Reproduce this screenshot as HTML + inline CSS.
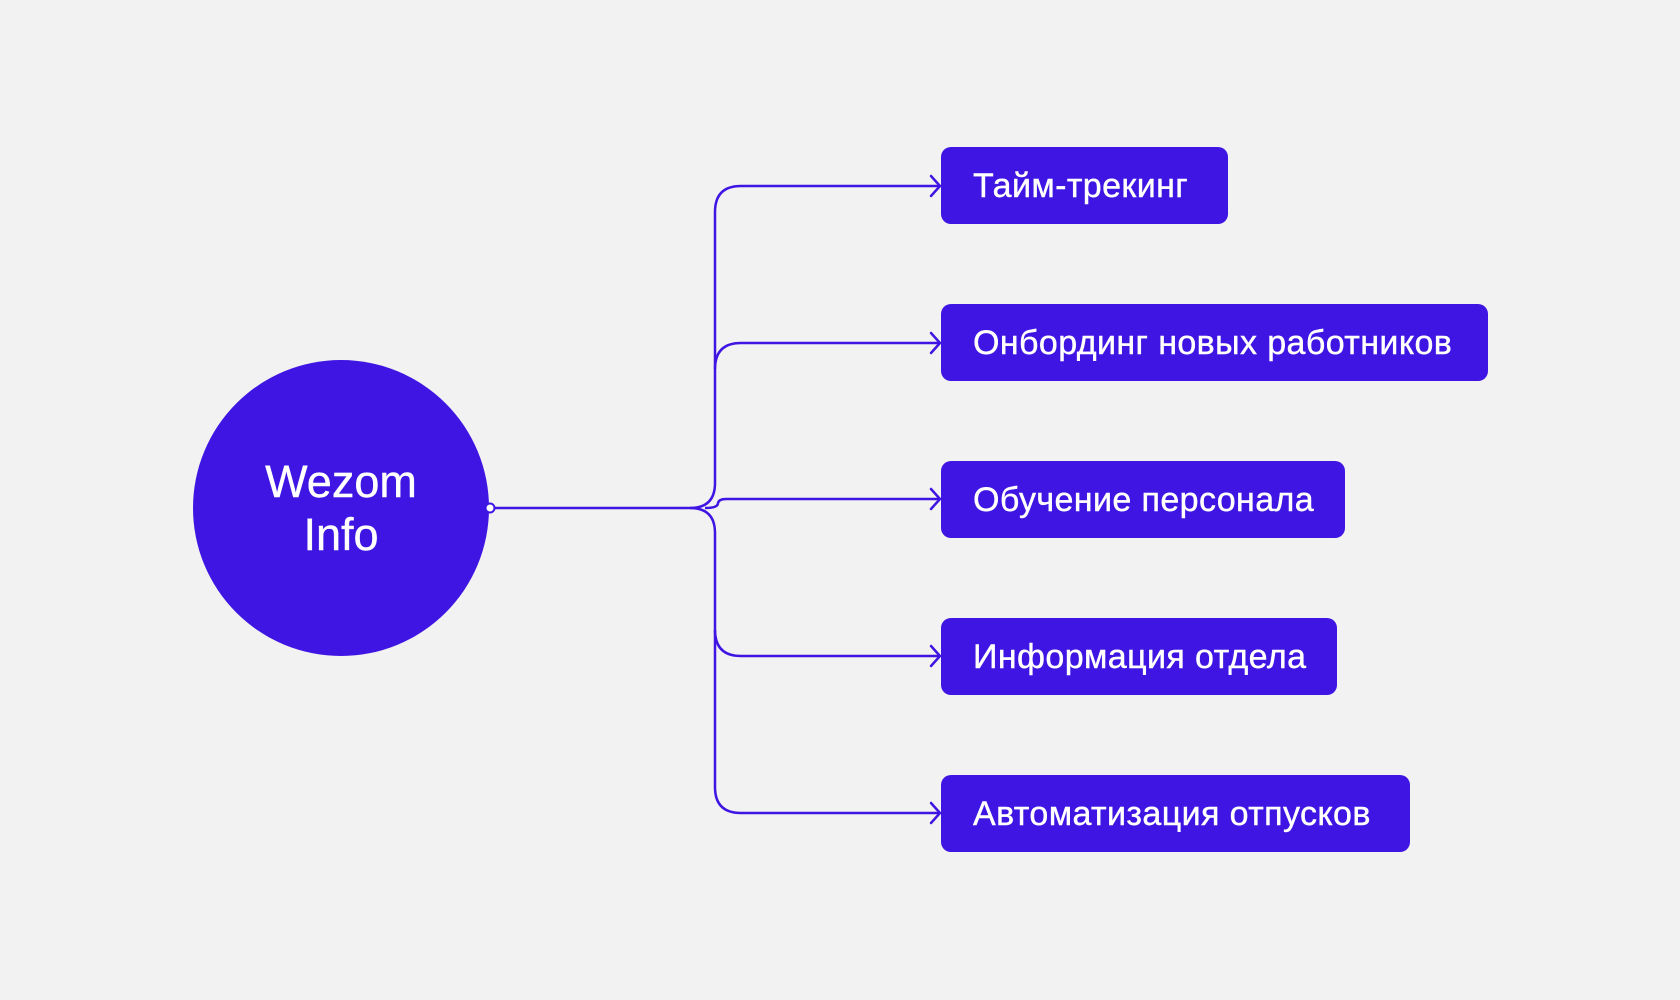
<!DOCTYPE html>
<html><head><meta charset="utf-8"><style>
html,body{margin:0;padding:0;background:#f2f2f2;}
body{width:1680px;height:1000px;position:relative;overflow:hidden;font-family:"Liberation Sans","DejaVu Sans",sans-serif;}
.box{position:absolute;left:941px;height:77px;background:#3f15e3;border-radius:10px;color:#fff;font-size:34px;letter-spacing:0.4px;line-height:79px;padding-left:32px;box-sizing:border-box;-webkit-text-stroke:0.4px #fff;}
.c{position:absolute;left:193px;top:360px;width:296px;height:296px;border-radius:50%;background:#3f15e3;color:#fff;font-size:45px;text-align:center;line-height:53px;display:flex;align-items:center;justify-content:center;-webkit-text-stroke:0.4px #fff;}
</style></head><body>
<svg width="1680" height="1000" style="position:absolute;left:0;top:0" fill="none" stroke="#3f15e3" stroke-width="2.5">
<path d="M490 508 H690 Q715 508 715 483 V212 Q715 186 741 186 H940"/>
<path d="M690 508 Q715 508 715 533 V787 Q715 813 741 813 H940"/>
<path d="M715 369 Q715 343 741 343 H940"/>
<path d="M715 630 Q715 656 741 656 H940"/>
<path d="M705 508 Q718 508 718 503 Q719 499 726 499 H940"/>
<g stroke-linecap="round">
<path d="M931 176 L940 186 L931 196"/>
<path d="M931 333 L940 343 L931 353"/>
<path d="M931 489 L940 499 L931 509"/>
<path d="M931 646 L940 656 L931 666"/>
<path d="M931 803 L940 813 L931 823"/>
</g>
</svg>
<div class="c"><div>Wezom<br>Info</div></div>
<svg width="1680" height="1000" style="position:absolute;left:0;top:0"><circle cx="490" cy="508" r="4.5" fill="#fff" stroke="#3f15e3" stroke-width="2"/></svg>
<div class="box" style="top:147px;width:287px">Тайм-трекинг</div>
<div class="box" style="top:304px;width:547px">Онбординг новых работников</div>
<div class="box" style="top:461px;width:404px">Обучение персонала</div>
<div class="box" style="top:618px;width:396px">Информация отдела</div>
<div class="box" style="top:775px;width:469px">Автоматизация отпусков</div>
</body></html>
